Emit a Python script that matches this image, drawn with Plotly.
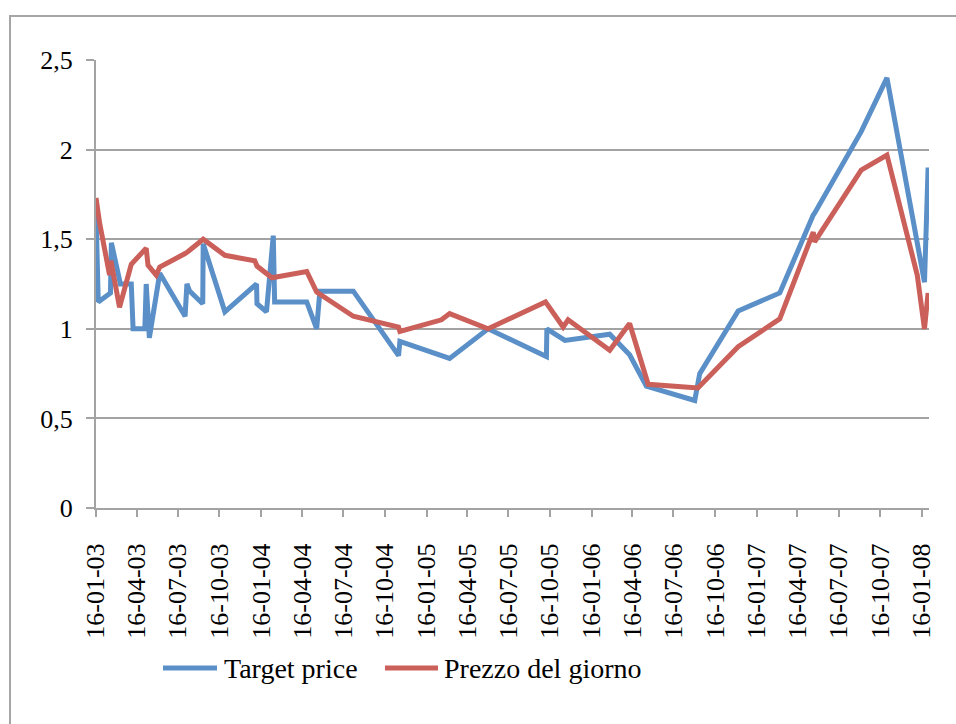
import plotly.graph_objects as go

# Target price series
target_dates = [
    "2003-01-16", "2003-01-21", "2003-02-17", "2003-02-19", "2003-03-11",
    "2003-04-04", "2003-04-08", "2003-05-04", "2003-05-07", "2003-05-14",
    "2003-06-06", "2003-08-01", "2003-08-05", "2003-08-11", "2003-09-09",
    "2003-09-10", "2003-10-28", "2004-01-06", "2004-01-07", "2004-01-28",
    "2004-02-12", "2004-02-15", "2004-04-26", "2004-05-18", "2004-05-25",
    "2004-08-07", "2004-11-15", "2004-11-18", "2005-03-08", "2005-06-01",
    "2005-10-08", "2005-10-09", "2005-11-18", "2006-02-25", "2006-04-10",
    "2006-05-17", "2006-09-01", "2006-09-12", "2006-12-06", "2007-03-08",
    "2007-05-21", "2007-05-24", "2007-09-04", "2007-10-31", "2008-01-22",
    "2008-01-30",
]
target_values = [
    1.65, 1.15, 1.20, 1.48, 1.25,
    1.25, 1.00, 1.00, 1.25, 0.95,
    1.31, 1.07, 1.25, 1.21, 1.14,
    1.475, 1.095, 1.25, 1.14, 1.095,
    1.52, 1.15, 1.15, 1.00, 1.21,
    1.21, 0.85, 0.93, 0.835, 1.00,
    0.845, 1.00, 0.935, 0.97, 0.855,
    0.68, 0.60, 0.75, 1.10, 1.20,
    1.635, 1.645, 2.10, 2.40, 1.26,
    1.90,
]

# Daily price series
price_dates = [
    "2003-01-16", "2003-01-24", "2003-02-15", "2003-02-18", "2003-03-09",
    "2003-04-04", "2003-05-07", "2003-05-11", "2003-05-29", "2003-06-06",
    "2003-08-01", "2003-08-07", "2003-09-10", "2003-10-28", "2004-01-02",
    "2004-01-07", "2004-02-09", "2004-04-26", "2004-05-18", "2004-08-07",
    "2004-11-15", "2004-11-18", "2005-02-18", "2005-03-08", "2005-06-01",
    "2005-10-06", "2005-11-14", "2005-11-25", "2006-02-25", "2006-04-10",
    "2006-05-21", "2006-09-08", "2006-12-06", "2007-03-08", "2007-05-21",
    "2007-05-24", "2007-09-04", "2007-10-31", "2008-01-06", "2008-01-22",
    "2008-01-30",
]
price_values = [
    1.73, 1.59, 1.30, 1.38, 1.12,
    1.36, 1.45, 1.355, 1.30, 1.345,
    1.42, 1.43, 1.50, 1.41, 1.38,
    1.35, 1.285, 1.32, 1.205, 1.07,
    1.01, 0.985, 1.05, 1.085, 1.00,
    1.15, 1.01, 1.05, 0.88, 1.03,
    0.69, 0.67, 0.90, 1.055, 1.54,
    1.485, 1.885, 1.97, 1.30, 1.00,
    1.20,
]

series_names = ["Target price", "Prezzo del giorno"]

x_tick_dates = [
    "2003-01-16", "2003-04-16", "2003-07-16", "2003-10-16",
    "2004-01-16", "2004-04-16", "2004-07-16", "2004-10-16",
    "2005-01-16", "2005-04-16", "2005-07-16", "2005-10-16",
    "2006-01-16", "2006-04-16", "2006-07-16", "2006-10-16",
    "2007-01-16", "2007-04-16", "2007-07-16", "2007-10-16",
    "2008-01-16",
]
x_tick_labels = [
    "16-01-03", "16-04-03", "16-07-03", "16-10-03",
    "16-01-04", "16-04-04", "16-07-04", "16-10-04",
    "16-01-05", "16-04-05", "16-07-05", "16-10-05",
    "16-01-06", "16-04-06", "16-07-06", "16-10-06",
    "16-01-07", "16-04-07", "16-07-07", "16-10-07",
    "16-01-08",
]
y_tick_values = [0, 0.5, 1, 1.5, 2, 2.5]
y_tick_labels = ["0", "0,5", "1", "1,5", "2", "2,5"]

BLUE = "#5A8FC8"
RED = "#CB5F5A"
GRID = "#a3a3a3"
FONT = "Liberation Serif"

W, H = 956, 724
L, R, T, B = 96, 929, 60, 508  # plot area in pixels

fig = go.Figure()
fig.add_trace(go.Scatter(x=target_dates, y=target_values, mode="lines",
                         name=series_names[0],
                         line=dict(color=BLUE, width=5, shape="linear"),
                         showlegend=False))
fig.add_trace(go.Scatter(x=price_dates, y=price_values, mode="lines",
                         name=series_names[1],
                         line=dict(color=RED, width=5, shape="linear"),
                         showlegend=False))


def px_x(p):
    return (p - L) / (R - L)


def px_y(p):
    return (B - p) / (B - T)


shapes = [
    # outer chart frame (extends past the page on right/bottom)
    dict(type="rect", xref="paper", yref="paper",
         x0=px_x(10), x1=px_x(1100), y0=px_y(900), y1=px_y(16),
         line=dict(color="#a6a6a6", width=2), fillcolor="rgba(0,0,0,0)",
         layer="below"),
]
annotations = []

# legend drawn as line samples + labels
legend_items = [(163, 217, 222, BLUE), (385, 438, 442, RED)]
legend_y = 668
for (x0, x1, tx, col), name in zip(legend_items, series_names):
    shapes.append(dict(type="line", xref="paper", yref="paper",
                       x0=px_x(x0), x1=px_x(x1), y0=px_y(legend_y), y1=px_y(legend_y),
                       line=dict(color=col, width=5)))
    annotations.append(dict(xref="paper", yref="paper", x=px_x(tx), y=px_y(legend_y),
                            text=name, showarrow=False, xanchor="left", yanchor="middle",
                            font=dict(family=FONT, size=28, color="black")))

fig.update_layout(
    width=W, height=H,
    margin=dict(l=L, r=W - R, t=T, b=H - B, pad=0),
    paper_bgcolor="white", plot_bgcolor="white",
    font=dict(family=FONT, size=26, color="black"),
    shapes=shapes, annotations=annotations,
    showlegend=False,
)
fig.update_xaxes(
    type="date", range=["2003-01-16", "2008-02-01"],
    tickmode="array", tickvals=x_tick_dates, ticktext=x_tick_labels,
    tickangle=-90, ticks="outside", ticklen=7, tickwidth=2, tickcolor=GRID,
    ticklabelstandoff=16,
    showline=True, linecolor=GRID, linewidth=2,
    showgrid=False, zeroline=False,
    tickfont=dict(family=FONT, size=26, color="black"),
)
fig.update_yaxes(
    range=[0, 2.5],
    tickmode="array", tickvals=y_tick_values, ticktext=y_tick_labels,
    ticks="outside", ticklen=8, tickwidth=2, tickcolor=GRID,
    ticklabelstandoff=8,
    showline=True, linecolor=GRID, linewidth=2,
    showgrid=True, gridcolor=GRID, gridwidth=2,
    zeroline=False,
    tickfont=dict(family=FONT, size=26, color="black"),
)

fig.write_html("out.html")
